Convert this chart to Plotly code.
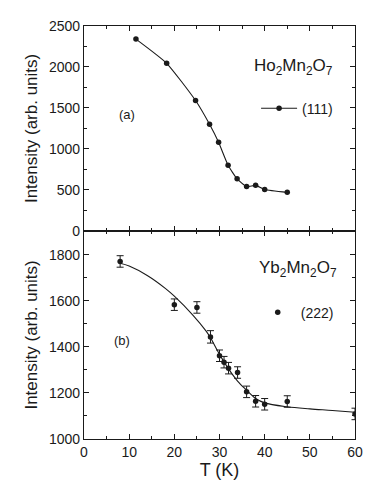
import plotly.graph_objects as go
from plotly.subplots import make_subplots

# (a) Ho2Mn2O7, (111) reflection
ho_T = [11.5, 18.3, 24.7, 27.8, 29.8, 31.9, 33.9, 36.0, 38.0, 40.0, 45.0]
ho_I = [2340, 2045, 1590, 1300, 1080, 800, 635, 540, 555, 505, 470]

# (b) Yb2Mn2O7, (222) reflection
yb_T = [8, 20, 25, 28, 30, 31, 32, 34, 36, 38, 40, 45, 60]
yb_I = [1772, 1584, 1572, 1444, 1362, 1334, 1308, 1289, 1205, 1164, 1151, 1163, 1109]
yb_err = [25, 25, 25, 27, 25, 25, 25, 25, 25, 25, 25, 25, 25]

# fitted curve
fit_T = [8, 10, 14, 18, 20, 24, 27, 28, 30, 32, 34, 36, 38, 40, 45, 50, 55, 60]
fit_I = [1764, 1752, 1711, 1655, 1621, 1541, 1470, 1440, 1368, 1305, 1252, 1212, 1176, 1157, 1140, 1131, 1124, 1116]

FONT = "Liberation Sans, Arial, sans-serif"
INK = "#1a1a1a"

fig = make_subplots(rows=2, cols=1, shared_xaxes=True, vertical_spacing=0,
                    row_heights=[0.496, 0.504])

fig.add_trace(go.Scatter(
    x=ho_T, y=ho_I, mode="lines+markers", name="(111)",
    line=dict(color=INK, width=1.1, shape="spline", smoothing=0.5),
    marker=dict(color=INK, size=5.5),
    legend="legend",
), row=1, col=1)

fig.add_trace(go.Scatter(
    x=fit_T, y=fit_I, mode="lines", showlegend=False,
    line=dict(color=INK, width=1.1, shape="spline"),
), row=2, col=1)

fig.add_trace(go.Scatter(
    x=yb_T, y=yb_I, mode="markers", name="(222)",
    marker=dict(color=INK, size=5.5),
    error_y=dict(type="data", array=yb_err, color=INK, thickness=1, width=3.5),
    legend="legend2",
), row=2, col=1)

axis_style = dict(
    showline=True, linecolor=INK, linewidth=1.3, mirror="ticks",
    ticks="inside", ticklen=5, tickwidth=1.3, tickcolor=INK,
    showgrid=False, zeroline=False, automargin=False,
    tickfont=dict(family=FONT, size=14, color=INK),
)

fig.update_xaxes(**axis_style)
fig.update_yaxes(**axis_style)

fig.update_xaxes(range=[0, 60], dtick=10,
                 minor=dict(ticks="inside", dtick=5, ticklen=3, tickcolor=INK))
fig.update_xaxes(showticklabels=False, row=1, col=1)
fig.update_xaxes(title=dict(text="T (K)", font=dict(family=FONT, size=18, color=INK), standoff=0),
                 row=2, col=1)

title_font = dict(family=FONT, size=17, color=INK)
fig.update_yaxes(range=[0, 2500], dtick=500,
                 minor=dict(ticks="inside", dtick=250, ticklen=3, tickcolor=INK),
                 title=dict(text="Intensity (arb. units)", font=title_font, standoff=6),
                 row=1, col=1)
fig.update_yaxes(range=[1000, 1905], tickvals=[1000, 1200, 1400, 1600, 1800],
                 minor=dict(ticks="inside", dtick=100, ticklen=3, tickcolor=INK),
                 title=dict(text="Intensity (arb. units)", font=title_font, standoff=6),
                 row=2, col=1)

ann_font = dict(family=FONT, size=13, color=INK)
fig.add_annotation(x=9.5, y=1415, xref="x", yref="y", text="(a)", showarrow=False, font=ann_font)
fig.add_annotation(x=46.3, y=2000, xref="x", yref="y",
                   text="Ho<sub>2</sub>Mn<sub>2</sub>O<sub>7</sub>", showarrow=False,
                   font=dict(family=FONT, size=17, color=INK))
fig.add_annotation(x=8.5, y=1430, xref="x2", yref="y2", text="(b)", showarrow=False, font=ann_font)
fig.add_annotation(x=47.4, y=1738, xref="x2", yref="y2",
                   text="Yb<sub>2</sub>Mn<sub>2</sub>O<sub>7</sub>", showarrow=False,
                   font=dict(family=FONT, size=17, color=INK))

legend_style = dict(bgcolor="rgba(0,0,0,0)", font=dict(family=FONT, size=14, color=INK),
                    xanchor="left", yanchor="middle")
# the page body adds an 8 px offset, so margins are shifted to keep the plot area in place
fig.update_layout(
    width=382, height=490,
    paper_bgcolor="white", plot_bgcolor="white",
    margin=dict(l=76, r=35, t=18, b=59),
    showlegend=True,
    legend=dict(x=0.635, y=0.80, itemwidth=36, **legend_style),
    legend2=dict(x=0.63, y=0.306, itemwidth=36, **legend_style),
)

fig.write_html("out.html")
